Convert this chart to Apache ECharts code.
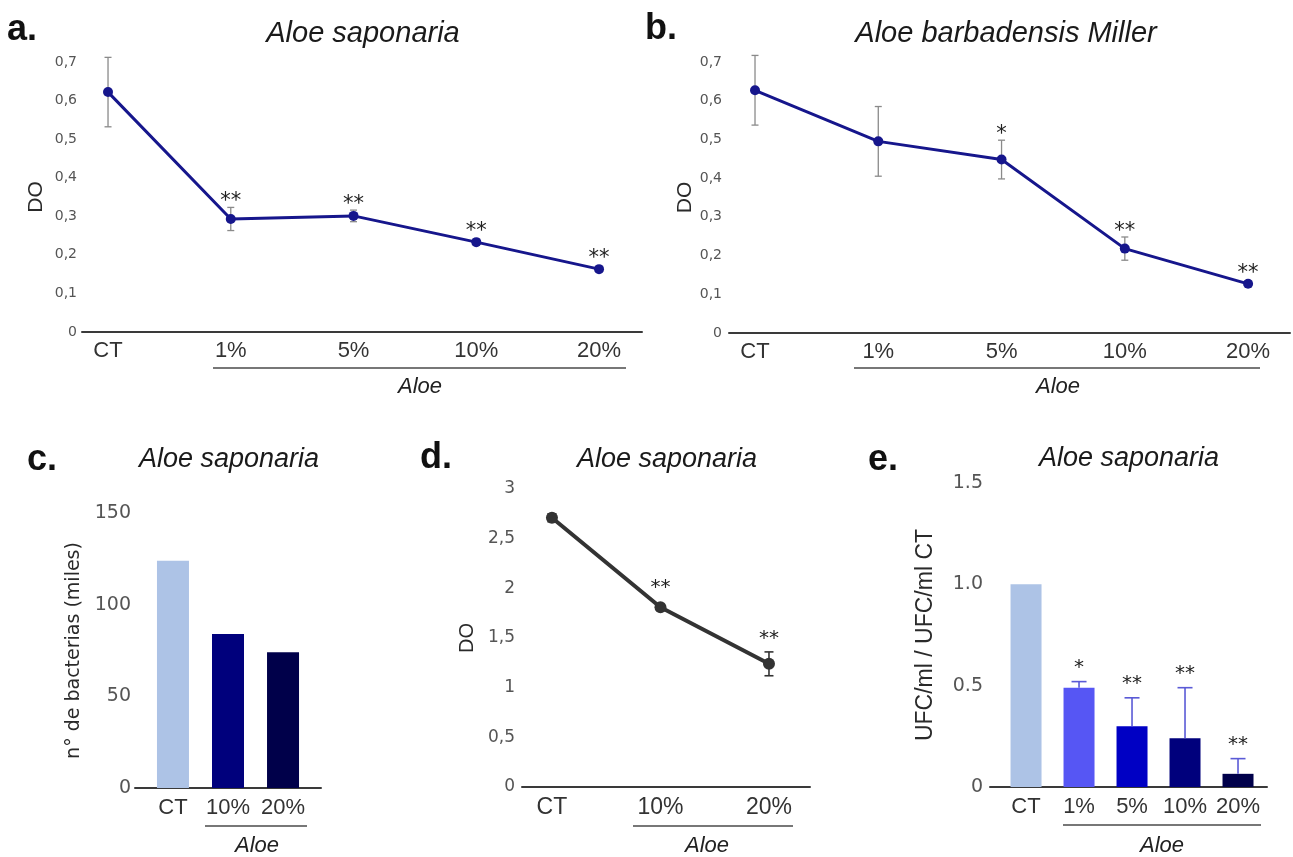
<!DOCTYPE html>
<html><head><meta charset="utf-8">
<script src="https://cdn.jsdelivr.net/npm/echarts@6/dist/echarts.min.js"></script>
<style>html,body{margin:0;padding:0;background:#fff}#c{width:1293px;height:857px}</style>
</head><body><div id="c"></div>
<script>
// ---------- data ----------
const catsA = ['CT', '1%', '5%', '10%', '20%'];
const valsA = [0.622, 0.293, 0.301, 0.233, 0.163];
const errA  = [0.09, 0.03, 0.015, 0.008, 0.006];
const sigA  = ['', '**', '**', '**', '**'];

const catsB = ['CT', '1%', '5%', '10%', '20%'];
const valsB = [0.627, 0.495, 0.448, 0.218, 0.127];
const errB  = [0.09, 0.09, 0.05, 0.03, 0.008];
const sigB  = ['', '', '*', '**', '**'];

const catsC = ['CT', '10%', '20%'];
const valsC = [124, 84, 74];

const catsD = ['CT', '10%', '20%'];
const valsD = [2.71, 1.81, 1.24];
const errD  = [0.04, 0.02, 0.12];
const sigD  = ['', '**', '**'];

const catsE = ['CT', '1%', '5%', '10%', '20%'];
const valsE = [1.0, 0.49, 0.30, 0.24, 0.065];
const errE  = [0, 0.03, 0.14, 0.25, 0.075];
const sigE  = ['', '*', '**', '**', '**'];

const colorsC = ['#adc3e6', '#00007c', '#00004a'];
const colorsE = ['#adc3e6', '#5656f4', '#0000c4', '#00007c', '#00004a'];

const titles = ['Aloe saponaria', 'Aloe barbadensis Miller', 'Aloe saponaria', 'Aloe saponaria', 'Aloe saponaria'];
const panelLetters = ['a.', 'b.', 'c.', 'd.', 'e.'];
const groupLabel = 'Aloe';

// ---------- styling ----------
const SANS = "'Liberation Sans', Arial, sans-serif";
const TICK = "'DejaVu Sans', Verdana, sans-serif";
const chart = echarts.init(document.getElementById('c'), null, {renderer: 'canvas'});

const comma = v => String(+v.toFixed(2)).replace('.', ',');

function xAxisFor(grid, min, max, cats, fs, margin) {
  return {
    type: 'value', gridIndex: grid, min: min, max: max,
    axisLine: {show: true, onZero: false, lineStyle: {color: '#3a3a3a', width: 2}},
    axisTick: {show: false}, splitLine: {show: false},
    axisLabel: {
      customValues: cats.map((c, i) => i),
      formatter: v => cats[Math.round(v)] || '',
      fontFamily: SANS, fontSize: fs, color: '#333', margin: margin
    }
  };
}
function yAxisFor(grid, max, interval, fmt, fs, margin, name, nameGap, nameFont, nameSize) {
  return {
    type: 'value', gridIndex: grid, min: 0, max: max, interval: interval,
    axisLine: {show: false}, axisTick: {show: false}, splitLine: {show: false},
    axisLabel: {formatter: fmt, fontFamily: TICK, fontSize: fs, color: '#555', margin: margin},
    name: name, nameLocation: 'middle', nameRotate: 90, nameGap: nameGap,
    nameTextStyle: {fontFamily: nameFont, fontSize: nameSize, color: '#2a2a2a'}
  };
}

function errSeries(grid, vals, errs, sig, o) {
  return {
    type: 'custom', xAxisIndex: grid, yAxisIndex: grid, z: o.z || 1, clip: false,
    data: vals.map((v, i) => [i, v, errs[i]]),
    renderItem: function (params, api) {
      const i = api.value(0), v = api.value(1), e = api.value(2);
      const p = api.coord([i, v]);
      const hi = api.coord([i, v + e]);
      const lo = o.upOnly ? p : api.coord([i, v - e]);
      const children = [];
      const hw = o.cap / 2;
      if (e > 0) {
        children.push({type: 'line', shape: {x1: p[0], y1: lo[1], x2: p[0], y2: hi[1]},
          style: {stroke: o.color, lineWidth: o.width}});
        children.push({type: 'line', shape: {x1: p[0] - hw, y1: hi[1], x2: p[0] + hw, y2: hi[1]},
          style: {stroke: o.color, lineWidth: o.width}});
        if (!o.upOnly) children.push({type: 'line', shape: {x1: p[0] - hw, y1: lo[1], x2: p[0] + hw, y2: lo[1]},
          style: {stroke: o.color, lineWidth: o.width}});
      }
      const s = sig[params.dataIndex];
      if (s) {
        const top = Math.min(e > 0 ? hi[1] : p[1], p[1] - o.r);
        children.push({type: 'text', x: p[0], y: top - o.starGap + 0.17 * o.starSize,
          style: {text: s, fontFamily: TICK, fontSize: o.starSize, fill: '#222',
            align: 'center', verticalAlign: 'middle'}});
      }
      return {type: 'group', children: children};
    }
  };
}

function lineSeries(grid, vals, color, width, size) {
  return {
    type: 'line', xAxisIndex: grid, yAxisIndex: grid, z: 3,
    data: vals.map((v, i) => [i, v]),
    symbol: 'circle', symbolSize: size, showSymbol: true,
    lineStyle: {color: color, width: width}, itemStyle: {color: color},
    animation: false
  };
}
function barSeries(grid, vals, colors, w) {
  return {
    type: 'bar', xAxisIndex: grid, yAxisIndex: grid, barWidth: w, z: 2,
    data: vals.map((v, i) => ({value: [i, v], itemStyle: {color: colors[i]}})),
    animation: false
  };
}

// ---------- annotations (titles, letters, group underlines) ----------
const titlePos = [[363, 19, 29], [1006, 19, 29], [229, 446, 27], [667, 446, 27], [1129, 445, 27]];
const letterPos = [[7, 12], [645, 11], [27, 442], [420, 440], [868, 442]];
const underline = [[213, 626, 368, 420, 387], [854, 1260, 368, 1058, 387],
                   [205, 307, 826, 257, 846], [633, 793, 826, 707, 846], [1063, 1261, 825, 1162, 846]];
const graphics = [];
titles.forEach((t, k) => {
  graphics.push({type: 'text', x: titlePos[k][0], y: titlePos[k][1],
    style: {text: t, fontFamily: SANS, fontStyle: 'italic', fontSize: titlePos[k][2], fill: '#1a1a1a',
      align: 'center', verticalAlign: 'top'}});
  graphics.push({type: 'text', x: letterPos[k][0], y: letterPos[k][1],
    style: {text: panelLetters[k], fontFamily: SANS, fontWeight: 'bold', fontSize: 36, fill: '#111',
      align: 'left', verticalAlign: 'top'}});
  const u = underline[k];
  graphics.push({type: 'line', shape: {x1: u[0], y1: u[2], x2: u[1], y2: u[2]},
    style: {stroke: '#4a4a4a', lineWidth: 1.6}});
  graphics.push({type: 'text', x: u[3], y: u[4],
    style: {text: groupLabel, fontFamily: SANS, fontStyle: 'italic', fontSize: 22, fill: '#222',
      align: 'center', verticalAlign: 'middle'}});
});

const option = {
  animation: false,
  backgroundColor: '#fff',
  grid: [
    {left: 82, top: 62, width: 560, height: 270},
    {left: 729, top: 62, width: 561, height: 271},
    {left: 135, top: 513, width: 186, height: 275},
    {left: 522, top: 489, width: 288, height: 298},
    {left: 990, top: 483, width: 277, height: 304}
  ],
  xAxis: [
    xAxisFor(0, -0.212, 4.35, catsA, 22, 8),
    xAxisFor(1, -0.211, 4.34, catsB, 22, 8),
    xAxisFor(2, -0.69, 2.69, catsC, 22, 9),
    xAxisFor(3, -0.276, 2.378, catsD, 23, 9),
    xAxisFor(4, -0.68, 4.547, catsE, 22, 9)
  ],
  yAxis: [
    yAxisFor(0, 0.7, 0.1, comma, 14, 5, 'DO', 35, SANS, 21),
    yAxisFor(1, 0.7, 0.1, comma, 14, 7, 'DO', 32, SANS, 21),
    yAxisFor(2, 150, 50, v => String(v), 19, 4, 'n° de bacterias (miles)', 51, TICK, 19),
    yAxisFor(3, 3, 0.5, comma, 17, 7, 'DO', 45, SANS, 20),
    yAxisFor(4, 1.5, 0.5, v => v === 0 ? '0' : v.toFixed(1), 19, 7, 'UFC/ml / UFC/ml CT', 53, SANS, 23)
  ],
  series: [
    errSeries(0, valsA, errA, sigA, {color: '#8a8a8a', width: 1.3, cap: 7, r: 5, starGap: 9, starSize: 21}),
    lineSeries(0, valsA, '#16168c', 3, 10),
    errSeries(1, valsB, errB, sigB, {color: '#8a8a8a', width: 1.3, cap: 7, r: 5, starGap: 9, starSize: 21}),
    lineSeries(1, valsB, '#16168c', 3, 10),
    barSeries(2, valsC, colorsC, 32),
    errSeries(3, valsD, errD, sigD, {color: '#333', width: 1.6, cap: 9, r: 6, starGap: 17, starSize: 20}),
    lineSeries(3, valsD, '#333333', 4, 12),
    barSeries(4, valsE, colorsE, 31),
    errSeries(4, valsE, errE, sigE, {color: '#5a5ad6', width: 1.6, cap: 15, r: 0, starGap: 17, starSize: 20, upOnly: true, z: 3})
  ],
  graphic: graphics
};
chart.setOption(option);
</script>
</body></html>
